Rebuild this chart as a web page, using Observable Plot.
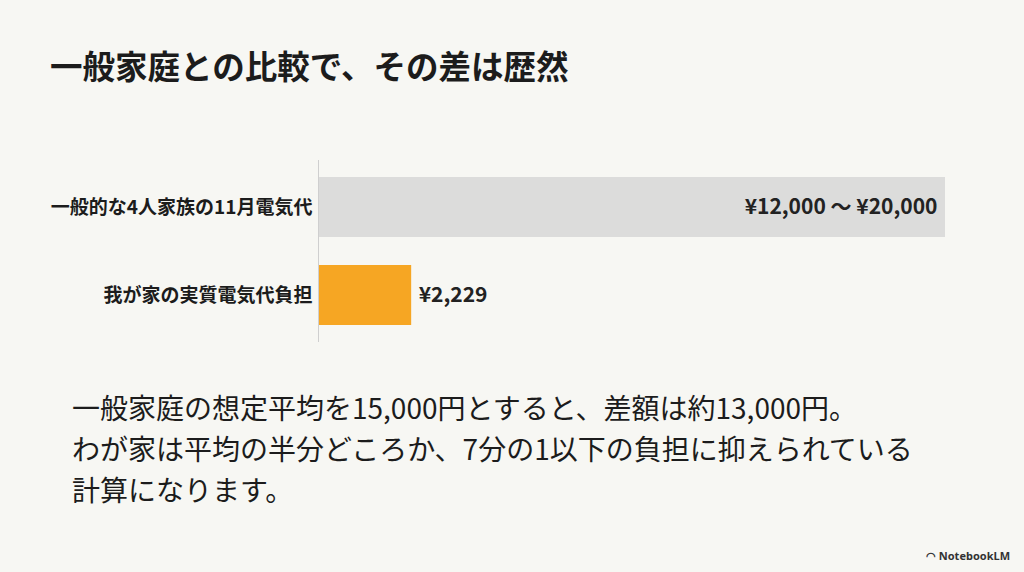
<!DOCTYPE html>
<html><head><meta charset="utf-8">
<script src="https://cdn.jsdelivr.net/npm/d3@7"></script>
<script src="https://cdn.jsdelivr.net/npm/@observablehq/plot@0.6"></script>
<style>
html,body{margin:0;padding:0;background:#f7f7f3;width:1024px;height:572px;overflow:hidden;font-family:"Noto Sans CJK JP","Noto Sans",sans-serif;}
#title{position:absolute;left:50px;top:41px;font-size:32.5px;font-weight:700;color:#1c1c1c;line-height:48px;}
#chart{position:absolute;left:0;top:150px;}
#note{position:absolute;left:72px;top:387px;font-size:28px;line-height:41px;color:#1c1c1c;font-weight:400;}
#brand{position:absolute;right:14px;top:548px;font-size:11px;font-weight:700;color:#333;font-family:"Noto Sans",sans-serif;}
</style></head>
<body>
<div id="title">一般家庭との比較で、その差は歴然</div>
<div id="chart"></div>
<div id="note">一般家庭の想定平均を15,000円とすると、差額は約13,000円。<br>わが家は平均の半分どころか、7分の1以下の負担に抑えられている<br>計算になります。</div>
<div id="brand">◠ NotebookLM</div>
<script>
const categories = ["一般的な4人家族の11月電気代", "我が家の実質電気代負担"];
const values = [15000, 2229];
const valueLabels = ["¥12,000 〜 ¥20,000", "¥2,229"];
const colors = ["#dcdcdb", "#f6a623"];

const data = categories.map((c, i) => ({cat: c, v: values[i], label: valueLabels[i], color: colors[i]}));
const font = "Noto Sans CJK JP";

const chart = Plot.plot({
  width: 1024,
  height: 200,
  marginTop: 10,
  marginBottom: 8,
  marginLeft: 318,
  marginRight: 79,
  style: {background: "transparent", fontFamily: font},
  x: {domain: [0, 15000], axis: null},
  y: {domain: categories, paddingInner: 0.315, paddingOuter: 0.18, label: null},
  marks: [
    Plot.barX(data, {x: "v", y: "cat", fill: "color"}),
    Plot.ruleX([0], {stroke: "#cfcfcf", strokeWidth: 1}),
    Plot.axisY({tickSize: 0, tickPadding: 6, fontSize: 19, fontWeight: 700, fill: "#1c1c1c", label: null}),
    Plot.text([data[0]], {x: "v", y: "cat", text: "label", textAnchor: "end", dx: -8, fontSize: 21, fontWeight: 700, fill: "#222"}),
    Plot.text([data[1]], {x: "v", y: "cat", text: "label", textAnchor: "start", dx: 7, fontSize: 21, fontWeight: 700, fill: "#222"})
  ]
});
document.getElementById("chart").appendChild(chart);
</script>
</body></html>
